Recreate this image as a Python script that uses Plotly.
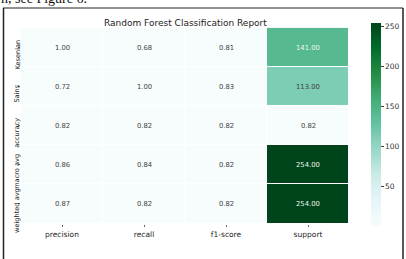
import plotly.graph_objects as go

W, H = 406, 259

metrics = ["precision", "recall", "f1-score", "support"]
rows = ["Kesenian", "Sains", "accuracy", "macro avg", "weighted avg"]
precision = [1.00, 0.72, 0.82, 0.86, 0.87]
recall = [0.68, 1.00, 0.82, 0.84, 0.82]
f1_score = [0.81, 0.83, 0.82, 0.82, 0.82]
support = [141.0, 113.0, 0.82, 254.0, 254.0]
cbar_ticks = [50, 100, 150, 200, 250]

z = [[precision[i], recall[i], f1_score[i], support[i]] for i in range(len(rows))]
vmin = min(min(r) for r in z)
vmax = max(max(r) for r in z)

colorscale = [
    [0.0, "rgb(247,252,253)"], [0.125, "rgb(229,245,249)"], [0.25, "rgb(204,236,230)"],
    [0.375, "rgb(153,216,201)"], [0.5, "rgb(102,194,164)"], [0.625, "rgb(65,174,118)"],
    [0.75, "rgb(35,139,69)"], [0.875, "rgb(0,109,44)"], [1.0, "rgb(0,68,27)"],
]

def px(x):
    return x / W

def py(y):
    return 1 - y / H

fig = go.Figure()
fig.add_trace(go.Heatmap(
    z=z, x=metrics, y=rows, zmin=vmin, zmax=vmax,
    colorscale=colorscale, xgap=1, ygap=1, hoverinfo="skip",
    colorbar=dict(
        x=px(371), xanchor="left", xpad=0,
        y=py(23), yanchor="top", ypad=0,
        len=203 / H, lenmode="fraction", thickness=10,
        outlinewidth=0, tickvals=cbar_ticks, ticks="outside",
        ticklen=3, tickcolor="#444", tickwidth=1,
        tickfont=dict(family="DejaVu Sans", size=7.5, color="#333"),
    ),
))

for i, r in enumerate(rows):
    for j, m in enumerate(metrics):
        v = z[i][j]
        frac = (v - vmin) / (vmax - vmin)
        col = "#eef6ee" if frac > 0.5 else "#444"
        fig.add_annotation(x=m, y=r, text=f"{v:.2f}", showarrow=False,
                           font=dict(family="DejaVu Sans", size=6.8, color=col))

# rotated row labels, hung slightly below each tick like the reference
for r in rows:
    fig.add_annotation(xref="paper", yref="y", x=px(11), y=r, yshift=-7,
                       text=r, textangle=-90, showarrow=False,
                       font=dict(family="DejaVu Sans", size=6.6, color="#222"))

# frame of the screenshot
fig.add_shape(type="line", xref="paper", yref="paper", x0=px(3), x1=px(403), y0=py(8), y1=py(8),
              line=dict(color="#222", width=1))
fig.add_shape(type="line", xref="paper", yref="paper", x0=px(3.5), x1=px(3.5), y0=py(8), y1=0,
              line=dict(color="#222", width=1.5))
fig.add_shape(type="line", xref="paper", yref="paper", x0=px(403), x1=px(403), y0=py(8), y1=0,
              line=dict(color="#222", width=1.5))

fig.add_annotation(xref="paper", yref="paper", x=px(185), y=py(16), text="Random Forest Classification Report",
                   showarrow=False, font=dict(family="DejaVu Sans", size=9, color="#222"))
fig.add_annotation(xref="paper", yref="paper", x=px(0), y=py(7), xanchor="left", yanchor="bottom",
                   text="n, see Figure 6.", showarrow=False, borderpad=0,
                   font=dict(family="Liberation Serif", size=14, color="#111"))

fig.update_layout(
    width=W, height=H, margin=dict(l=0, r=0, t=0, b=0, autoexpand=False),
    paper_bgcolor="white", plot_bgcolor="white", showlegend=False,
    xaxis=dict(domain=[px(21), px(349)], side="bottom", ticks="outside", ticklen=2,
               tickcolor="#666", showgrid=False, zeroline=False, showline=False,
               automargin=False, ticklabelstandoff=1,
               tickfont=dict(family="DejaVu Sans", size=7.5, color="#222")),
    yaxis=dict(domain=[py(223.5), py(23.5)], autorange="reversed", ticks="outside", ticklen=2,
               tickcolor="#666", showgrid=False, zeroline=False, showline=False,
               automargin=False, showticklabels=False),
)

fig.write_html("out.html")
